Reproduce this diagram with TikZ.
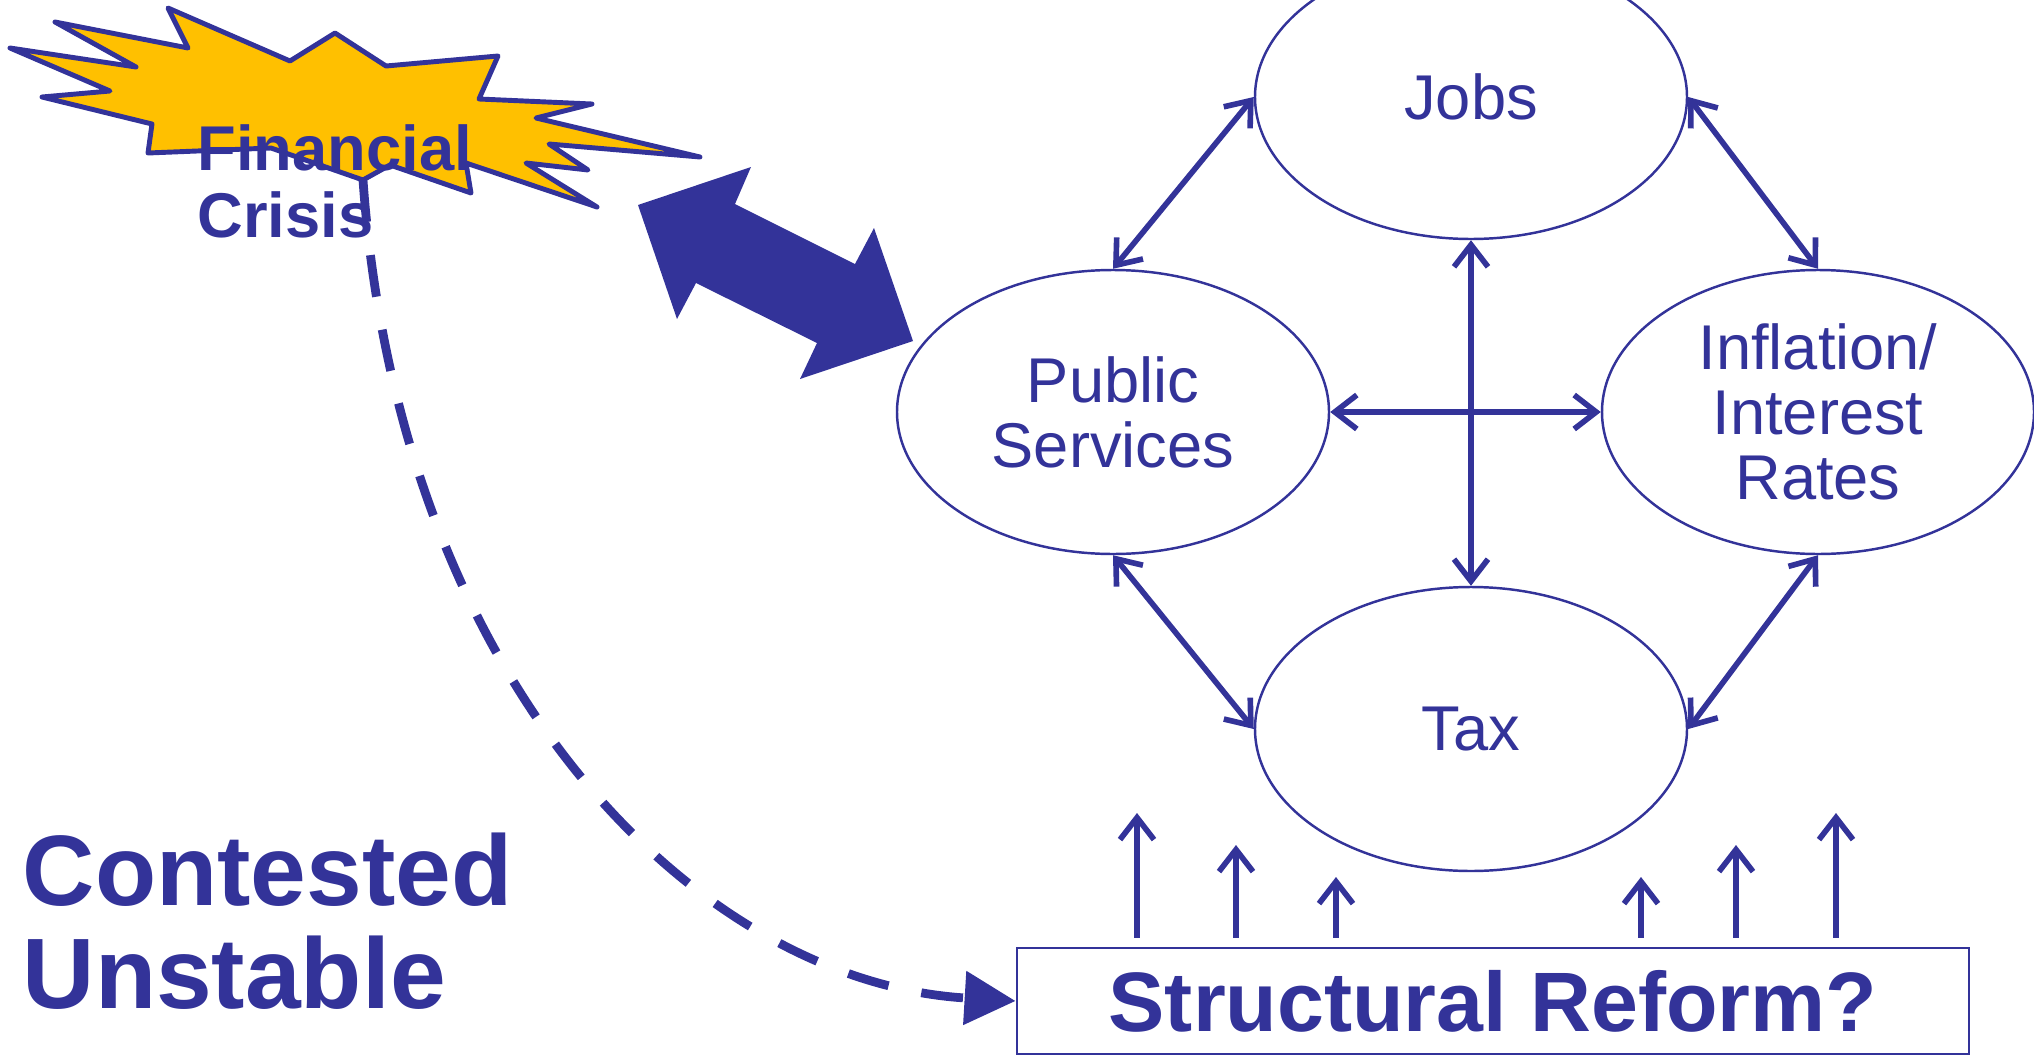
\documentclass[tikz,border=0pt]{standalone}
\usepackage{fontspec}
\setmainfont{Liberation Sans}
\usepackage{tikz}
\usetikzlibrary{arrows.meta,shapes.geometric}

\definecolor{navy}{HTML}{333399}
\definecolor{burst}{HTML}{FFC000}

\begin{document}
\begin{tikzpicture}[
    factor/.style={ellipse,draw=navy,line width=0.7pt,text=navy,
      minimum width=4.32cm,minimum height=2.84cm,inner sep=0pt,align=center,
      font=\fontsize{18}{18.5}\selectfont},
    link/.style={navy,line width=1.6pt,line cap=round,
      {Straight Barb[length=2.2mm,width=3.4mm]}-{Straight Barb[length=2.2mm,width=3.4mm]}},
    push/.style={navy,line width=1.6pt,-{Straight Barb[length=2.2mm,width=3.4mm]}}
  ]
  \useasboundingbox (0,0) rectangle (20.34,10.58);
  % Crisis burst
  \draw[navy,fill=burst,line width=1.4pt,line join=round]
    (1.68,10.50) -- (2.90,9.97) -- (3.35,10.25) -- (3.86,9.92) -- (4.98,10.02)
    -- (4.79,9.59) -- (5.92,9.54) -- (5.36,9.40) -- (7.00,9.01) -- (5.49,9.14)
    -- (5.88,8.88) -- (5.26,8.95) -- (5.97,8.51) -- (4.66,8.95) -- (4.71,8.65)
    -- (3.90,8.93) -- (3.63,8.78) coordinate (crisis) -- (2.71,9.10) -- (1.48,9.05)
    -- (1.52,9.34) -- (0.42,9.61) -- (1.10,9.67) -- (0.10,10.10) -- (1.36,9.91)
    -- (0.55,10.36) -- (1.88,10.10) -- cycle;
  \node[anchor=north west,inner sep=0pt,align=left,text=navy,
    font=\bfseries\fontsize{18}{19}\selectfont] (crisislabel) at (1.97,9.34) {Financial\\Crisis};
  % Big two-way arrow
  \fill[navy] (6.38,8.53) -- (7.51,8.91) -- (7.35,8.54) -- (8.55,7.94) -- (8.74,8.30)
    -- (9.13,7.17) -- (8.00,6.79) -- (8.17,7.15) -- (6.96,7.75) -- (6.77,7.39) -- cycle;
  % Four factors
  \node[factor] (jobs) at (14.71,9.61) {Jobs};
  \node[factor] (public) at (11.13,6.46) {Public\\Services};
  \node[factor] (inflation) at (18.18,6.46) {Inflation/\\Interest\\Rates};
  \node[factor] (tax) at (14.71,3.29) {\raisebox{-0.05cm}{Tax}};
  % Links between factors
  \draw[link] (public.north) -- (jobs.west);
  \draw[link] (jobs.east) -- (inflation.north);
  \draw[link] (jobs.south) -- (tax.north);
  \draw[link] (public.east) -- (inflation.west);
  \draw[link] (public.south) -- (tax.west);
  \draw[link] (inflation.south) -- (tax.east);
  % Reform box
  \node[draw=navy,line width=0.8pt,text=navy,minimum width=9.52cm,minimum height=1.06cm,
    inner sep=0pt,font=\bfseries\fontsize{24}{24}\selectfont] (reform) at (14.93,0.57) {Structural Reform?};
  \foreach \x/\y [count=\i] in {11.37/2.45,12.36/2.13,13.36/1.81,16.41/1.81,17.36/2.13,18.36/2.45}{
    \coordinate (push\i) at (\x,\y);
    \draw[push,shorten <=2.5pt] (push\i |- reform.north) -- (push\i);
  }
  % Dashed path from crisis to reform
  \draw[navy,line width=2.5pt,dash pattern=on 0.42cm off 0.335cm,-{Triangle[length=5.1mm,width=5.2mm]}]
    (crisis) .. controls (3.99,3.73) and (6.97,0.76) .. (reform.west);
  % Status
  \node[anchor=north west,inner sep=0pt,align=left,text=navy,
    font=\bfseries\fontsize{28.5}{29.5}\selectfont] (status) at (0.22,2.26) {Contested\\Unstable};
\end{tikzpicture}
\end{document}
